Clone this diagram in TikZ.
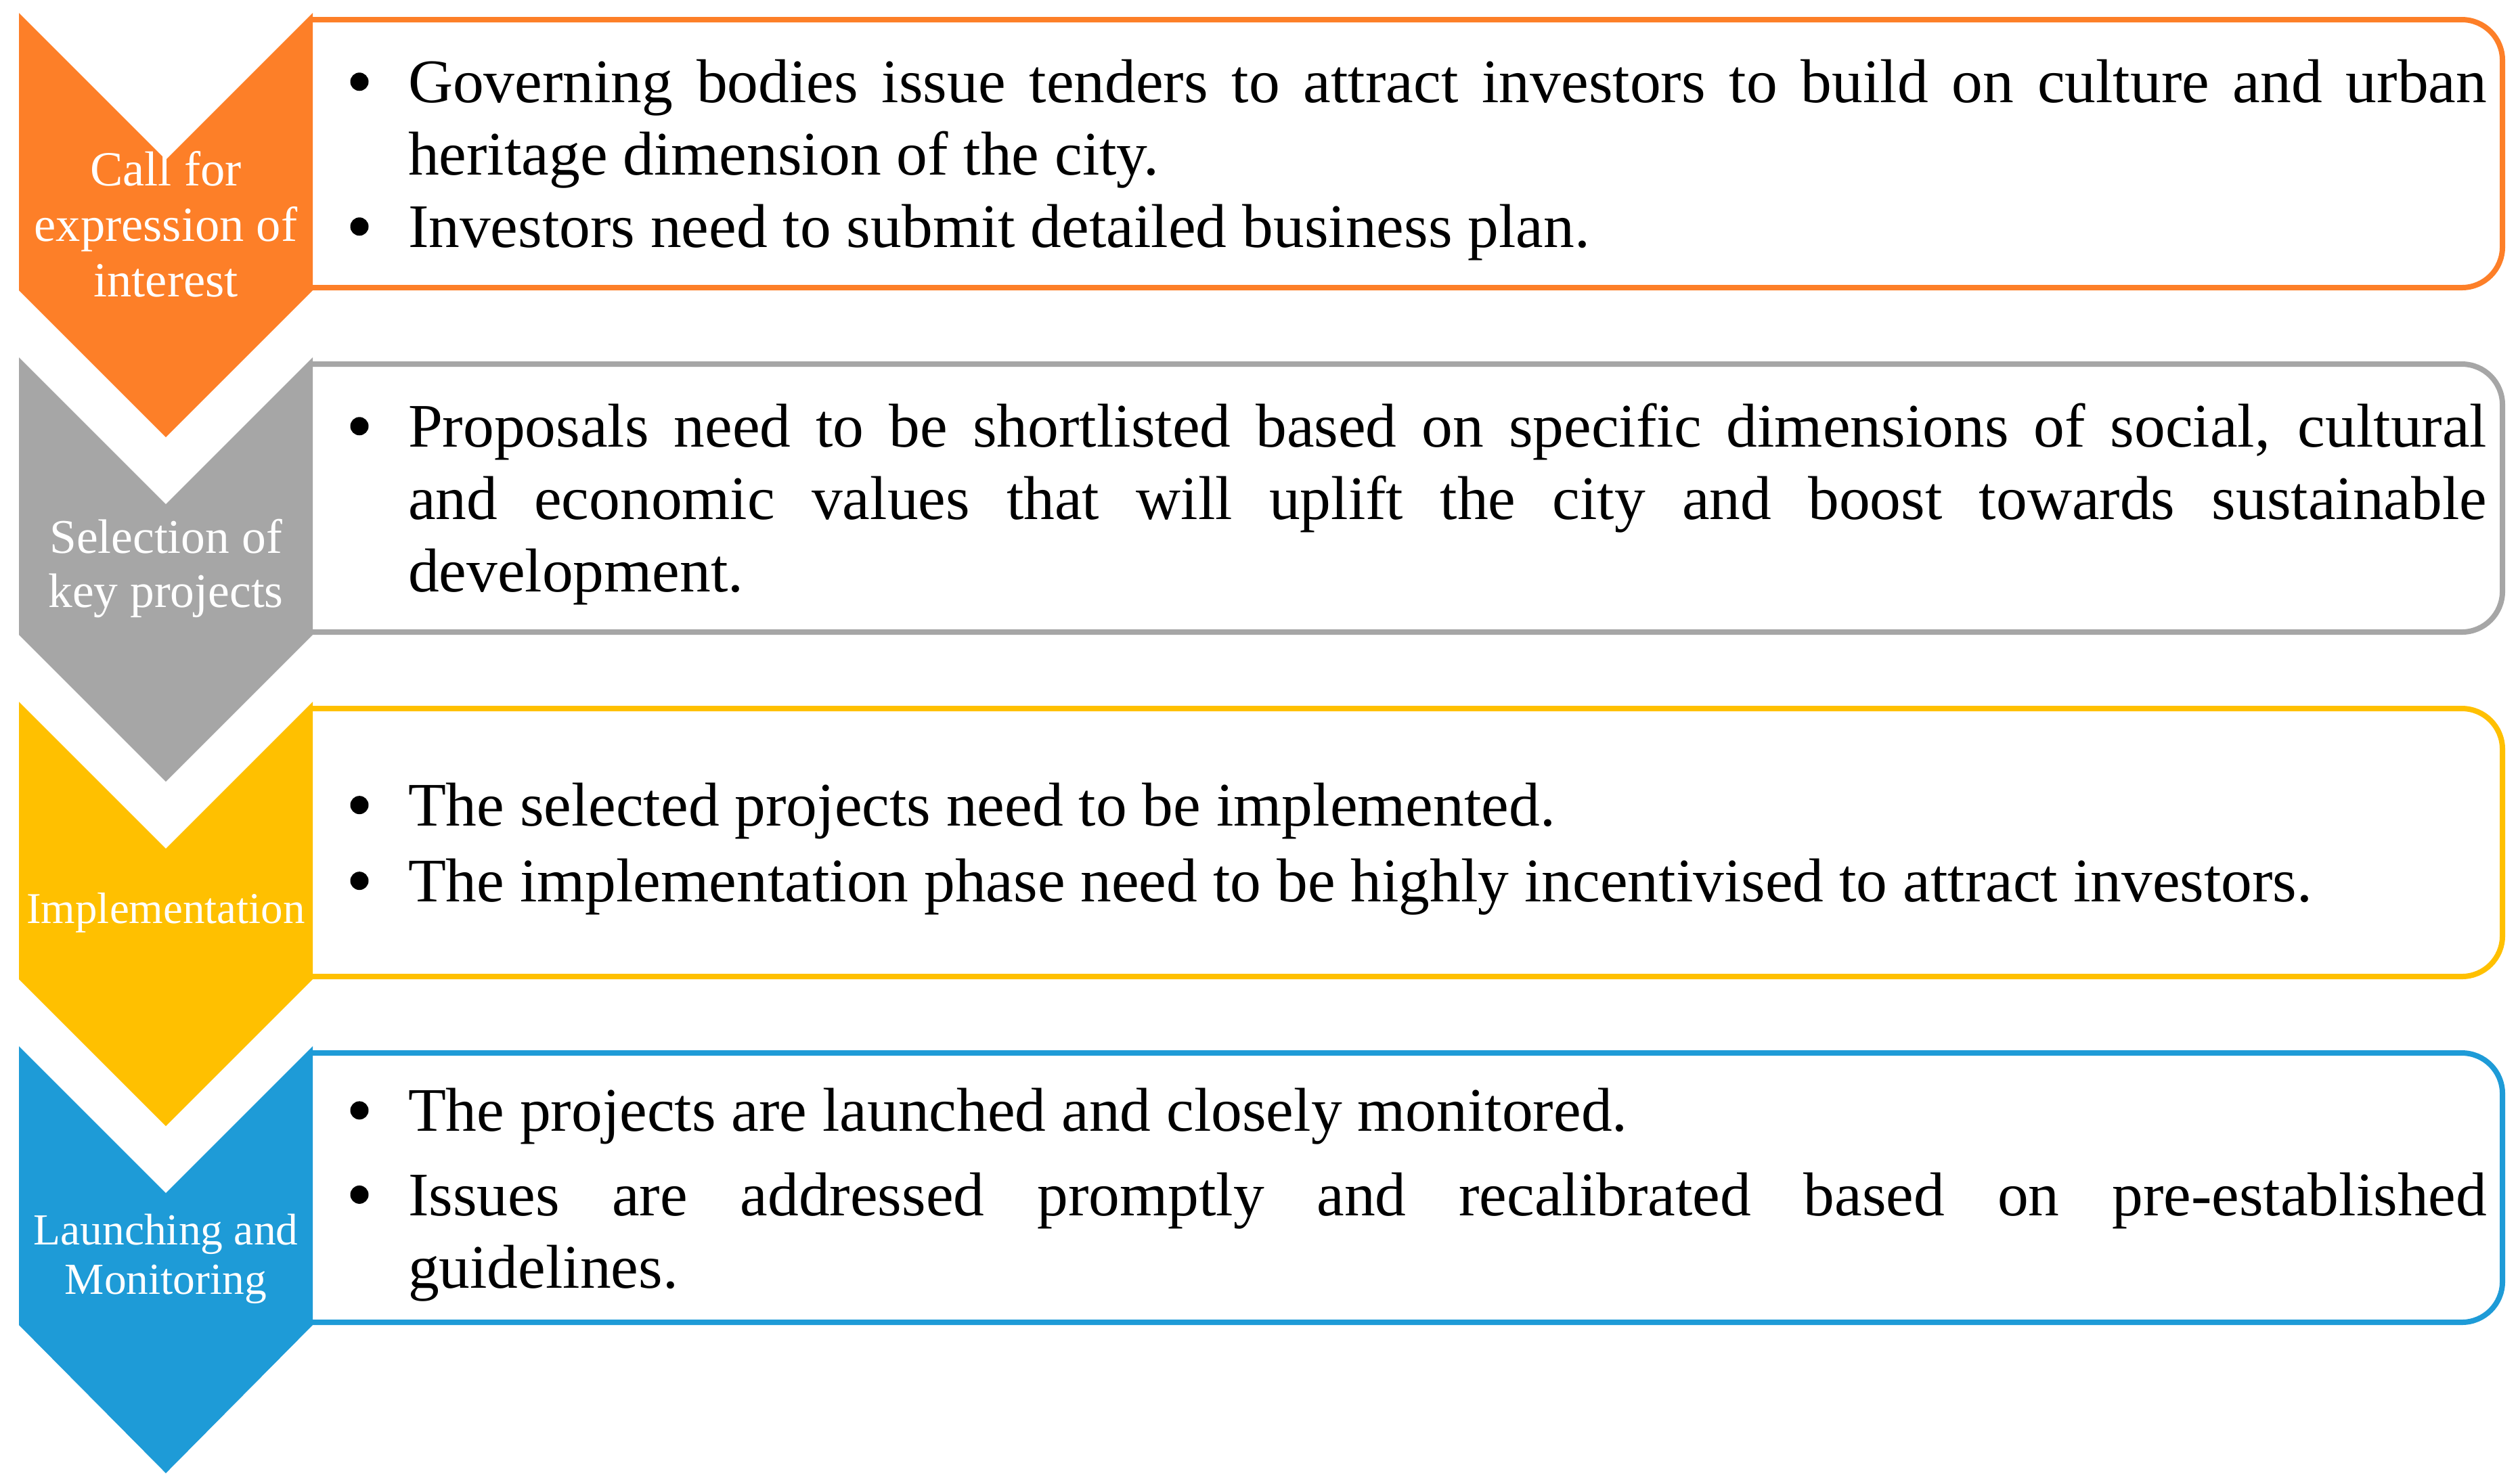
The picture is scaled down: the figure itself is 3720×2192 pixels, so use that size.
\documentclass[tikz,border=0pt]{standalone}
\usepackage{fontspec}
\setmainfont{Liberation Serif}
\usepackage{enumitem}
\definecolor{callOrange}{RGB}{253,127,40}
\definecolor{selGray}{RGB}{166,166,166}
\definecolor{implGold}{RGB}{255,192,0}
\definecolor{launchBlue}{RGB}{30,155,215}
\newcommand{\bigdot}{\tikz[baseline=-6.2pt]\fill (0,0) circle (2.7pt);}
\setlist[itemize]{label=\bigdot,leftmargin=20.4pt,labelsep=11.7pt,labelwidth=8.7pt,align=right,topsep=0pt,partopsep=0pt,parsep=0pt,itemsep=0pt}
\hyphenpenalty=10000
\begin{document}
\begin{tikzpicture}[x=0.2pt,y=0.2pt,yscale=-1,xscale=1,
  boxframe/.style={line width=1.6pt,rounded corners=12pt},
  stagelbl/.style={text=white,align=center,inner sep=0.75pt},
  bodytxt/.style={anchor=west,inner sep=0pt,text width=634.6pt,align=justify,
    font=\fontsize{18.3}{21.4}\selectfont}]
\useasboundingbox (0,0) rectangle (3720,2192);

%Frames behind the chevrons
\draw[boxframe,draw=callOrange] (462,29) -- (3697,29) -- (3697,425) -- (462,425) ;
\draw[boxframe,draw=selGray] (462,538) -- (3697,538) -- (3697,934) -- (462,934) ;
\draw[boxframe,draw=implGold] (462,1047) -- (3697,1047) -- (3697,1443) -- (462,1443) ;
\draw[boxframe,draw=launchBlue] (462,1556) -- (3697,1556) -- (3697,1954) -- (462,1954) ;

%Chevrons
\fill[callOrange] (28,19) -- (245,236) -- (462,19) -- (462,429) -- (245,646) -- (28,429) -- cycle ;
\fill[selGray] (28,528) -- (245,745) -- (462,528) -- (462,938) -- (245,1155) -- (28,938) -- cycle ;
\fill[implGold] (28,1037) -- (245,1254) -- (462,1037) -- (462,1447) -- (245,1664) -- (28,1447) -- cycle ;
\fill[launchBlue] (28,1546) -- (245,1763) -- (462,1546) -- (462,1958) -- (245,2177) -- (28,1958) -- cycle ;

% Stage labels
\node[stagelbl,font=\fontsize{14.5}{16.4}\selectfont] (lblcall) at (245,331) {Call for\\expression of\\interest};
\node[stagelbl,font=\fontsize{14.3}{16}\selectfont] (lblselect) at (245,840) {Selection of\\key projects};
\node[stagelbl,font=\fontsize{13}{14}\selectfont] (lblimpl) at (245,1349) {Implementation};
\node[stagelbl,font=\fontsize{13.1}{14.6}\selectfont] (lbllaunch) at (245,1860) {Launching and\\Monitoring};

% Text Nodes
\node[bodytxt] (txtcall) at (500,215) {\begin{itemize}
  \item Governing bodies issue tenders to attract investors to build on culture and urban\linebreak heritage dimension of the city.
  \item Investors need to submit detailed business plan.
\end{itemize}};
\node[bodytxt] (txtselect) at (500,724) {\begin{itemize}
  \item Proposals need to be shortlisted based on specific dimensions of social, cultural\linebreak and economic values that will uplift the city and boost towards sustainable\linebreak development.
\end{itemize}};
\node[bodytxt] (txtimpl) at (500,1233) {\begin{itemize}[itemsep=1pt]
  \item The selected projects need to be implemented.
  \item The implementation phase need to be highly incentivised to attract investors.
\end{itemize}};
\node[bodytxt] (txtlaunch) at (500,1744) {\begin{itemize}[itemsep=3.5pt]
  \item The projects are launched and closely monitored.
  \item Issues are addressed promptly and recalibrated based on pre-established\linebreak guidelines.
\end{itemize}};
\end{tikzpicture}
\end{document}
